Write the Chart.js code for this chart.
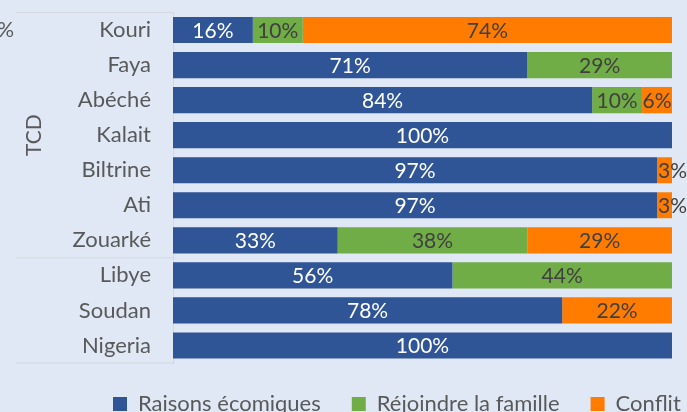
<!DOCTYPE html>
<html>
<head>
<meta charset="utf-8">
<script src="https://cdn.jsdelivr.net/npm/chart.js@4.4.1/dist/chart.umd.min.js"></script>
<style>
  html, body { margin: 0; padding: 0; background: #E0E8F5; overflow: hidden; }
  #wrap { width: 687px; height: 426px; }
</style>
</head>
<body>
<div id="wrap"><canvas id="myChart" width="687" height="426"></canvas></div>
<script>
// categories (top to bottom) and the share of each reason, in %
const places = ["Kouri", "Faya", "Abéché", "Kalait", "Biltrine", "Ati", "Zouarké", "Libye", "Soudan", "Nigeria"];
const economic = [16, 71, 84, 100, 97, 97, 33, 56, 78, 100];
const family = [10, 29, 10, 0, 0, 0, 38, 44, 0, 0];
const conflict = [74, 0, 6, 0, 3, 3, 29, 0, 22, 0];
// outer level of the category axis: label and number of rows it spans
const groupNames = ["TCD", ""];
const groupSizes = [7, 3];

const FONT = "Lato";
const GREY = "#595959";
const LINE = "#D3D8E0";

// value labels drawn in the middle of each segment
const barLabels = {
    id: "barLabels",
    afterDatasetsDraw(chart) {
        const ctx = chart.ctx;
        ctx.save();
        ctx.font = "21px " + FONT;
        ctx.textBaseline = "middle";
        chart.data.datasets.forEach((ds, i) => {
            const meta = chart.getDatasetMeta(i);
            meta.data.forEach((bar, j) => {
                const v = ds.data[j];
                if (!v) return;
                const txt = v + "%";
                const w = ctx.measureText(txt).width;
                const seg = Math.abs(bar.x - bar.base);
                ctx.fillStyle = i === 0 ? "#FFFFFF" : "#404040";
                if (w > seg) {
                    ctx.textAlign = "left";
                    ctx.fillText(txt, Math.min(bar.base, bar.x) + 1, bar.y + 1);
                } else {
                    ctx.textAlign = "center";
                    ctx.fillText(txt, (bar.x + bar.base) / 2, bar.y + 1);
                }
            });
        });
        ctx.restore();
    },
};

// the grouping lines and the "TCD" label of the two level axis
const groupAxis = {
    id: "groupAxis",
    afterDraw(chart) {
        const ctx = chart.ctx;
        const y = chart.scales.y;
        const band = y.getPixelForValue(1) - y.getPixelForValue(0);
        const axisX = chart.chartArea.left;
        ctx.save();
        ctx.strokeStyle = LINE;
        ctx.lineWidth = 1;
        let start = 0;
        let top = y.getPixelForValue(0) - band / 2;
        ctx.beginPath();
        ctx.moveTo(16, top);
        ctx.lineTo(axisX, top);
        groupSizes.forEach((n) => {
            const edge = y.getPixelForValue(start + n - 1) + band / 2;
            ctx.moveTo(16, edge);
            ctx.lineTo(axisX, edge);
            start += n;
        });
        ctx.stroke();

        ctx.fillStyle = GREY;
        ctx.font = "21px " + FONT;
        ctx.textAlign = "center";
        ctx.textBaseline = "middle";
        start = 0;
        groupSizes.forEach((n, k) => {
            const a = y.getPixelForValue(start) - band / 2;
            const b = y.getPixelForValue(start + n - 1) + band / 2;
            ctx.save();
            ctx.translate(34, (a + b) / 2);
            ctx.rotate(-Math.PI / 2);
            ctx.fillText(groupNames[k], 0, 0);
            ctx.restore();
            start += n;
        });
        // clipped piece of text at the left edge
        ctx.textAlign = "right";
        ctx.fillText("%", 14, 30);
        ctx.restore();
    },
};

// place the legend where it sits in the picture
const legendSpot = {
    id: "legendSpot",
    afterLayout(chart) {
        const lg = chart.legend;
        const pad = lg.options.labels.padding;
        const dx = 113 - (lg.left + pad);
        const dy = 393 - (lg.top + pad);
        lg.left += dx; lg.right += dx;
        lg.top += dy; lg.bottom += dy;
    },
};

new Chart("myChart", {
    type: "bar",
    data: {
        labels: places,
        datasets: [
            { label: "Raisons écomiques", data: economic, backgroundColor: "#2F5597" },
            { label: "Réjoindre la famille", data: family, backgroundColor: "#70AD47" },
            { label: "Conflit", data: conflict, backgroundColor: "#FF7C00" },
        ],
    },
    options: {
        indexAxis: "y",
        responsive: false,
        animation: false,
        datasets: {
            bar: { categoryPercentage: 1, barPercentage: 0.745 },
        },
        layout: { padding: { top: 12.5, right: 15, left: 0, bottom: 0 } },
        plugins: {
            legend: {
                position: "bottom",
                align: "start",
                labels: {
                    boxWidth: 14,
                    boxHeight: 14,
                    padding: 31,
                    color: GREY,
                    font: { family: FONT, size: 22 },
                },
            },
            tooltip: { enabled: false },
        },
        scales: {
            x: { stacked: true, min: 0, max: 100, display: false },
            y: {
                stacked: true,
                grid: { display: false, drawTicks: false },
                border: { display: true, color: LINE, width: 1 },
                ticks: {
                    padding: 22,
                    color: GREY,
                    font: { family: FONT, size: 22 },
                },
                afterFit(scale) {
                    scale.width = 173;
                    scale.paddingTop = 0;
                    scale.paddingBottom = 0;
                },
            },
        },
    },
    plugins: [barLabels, groupAxis, legendSpot],
});
</script>
</body>
</html>
